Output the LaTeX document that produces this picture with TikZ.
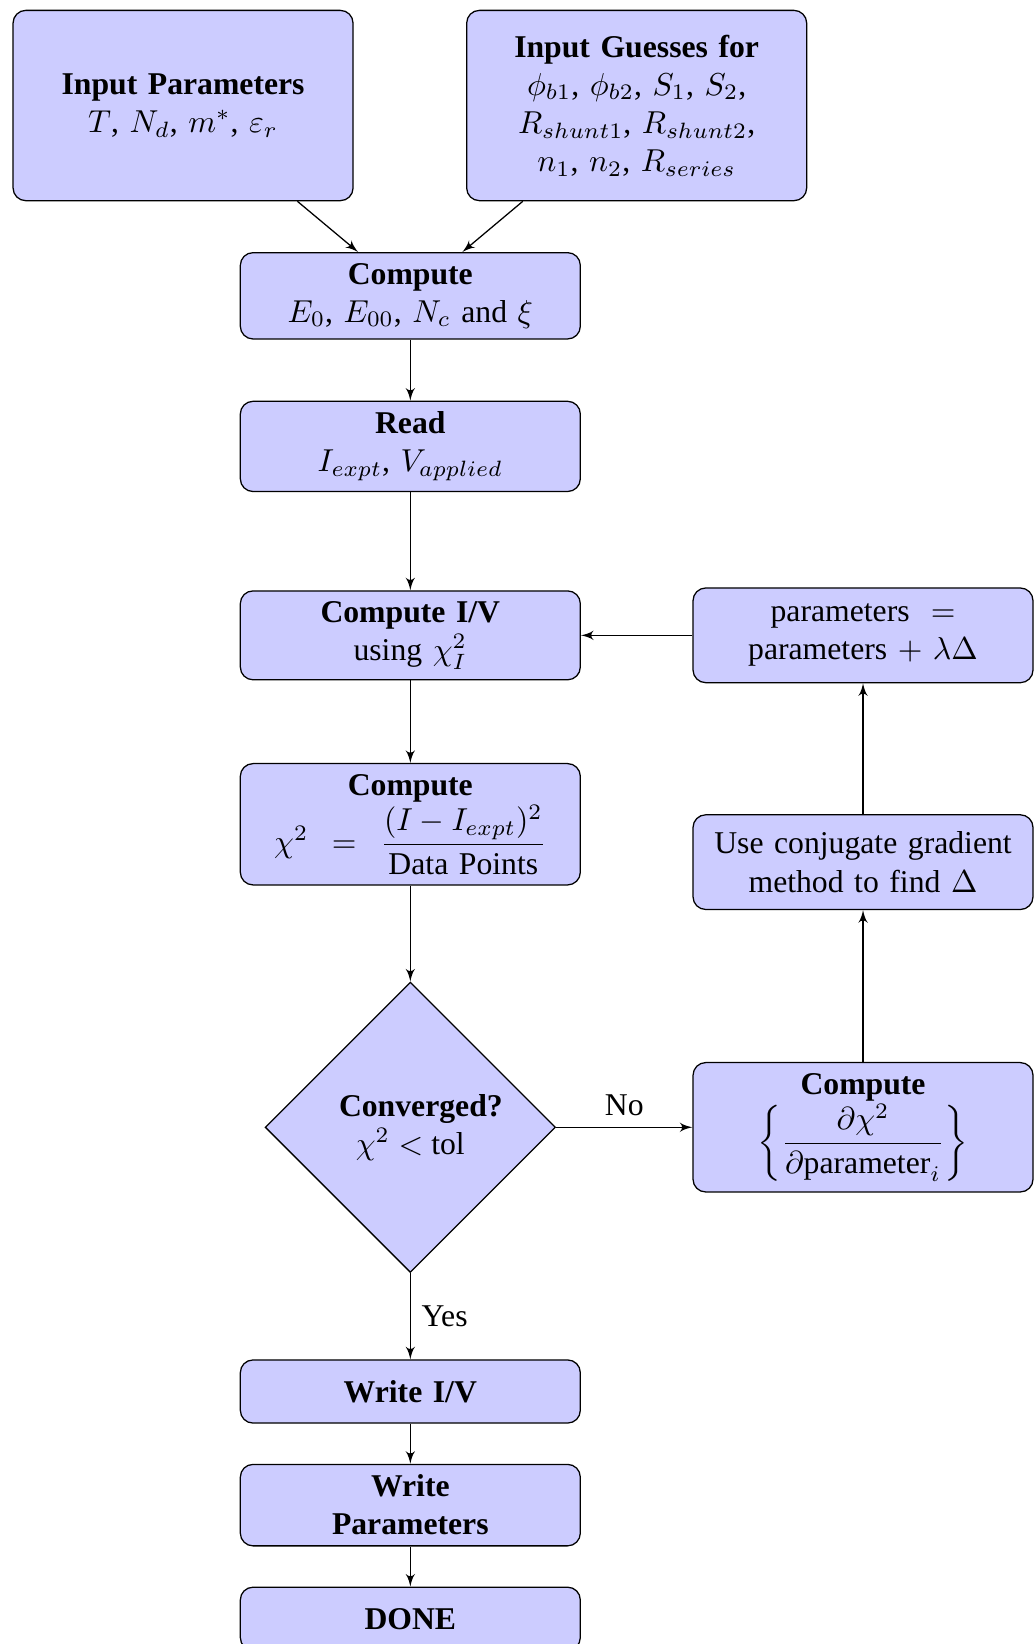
\documentclass[tikz,border=0pt]{standalone}
\usepackage{amsmath}
\usepackage[no-math]{fontspec}
\setmainfont{Liberation Serif}
\usetikzlibrary{shapes,arrows}

\tikzset{
  block/.style={rectangle, draw, fill=blue!20, text width=3.5cm, text centered, rounded corners, minimum width=3.77cm, minimum height=0.7cm},
  decision/.style={diamond, draw, fill=blue!20, text width=4.5em, text badly centered, inner sep=0pt, aspect=1, minimum width=3.22cm, minimum height=3.22cm},
  line/.style={draw, -latex'}
}

\begin{document}
\begin{tikzpicture}
\useasboundingbox (0,0) rectangle (11.47,-18.23);

% inputs
\node[block, minimum height=2.11cm] (inpar) at (2.03,-1.17) {\textbf{Input Parameters}\\ $T$, $N_d$, $m^*$, $\varepsilon_r$};
\node[block, minimum height=2.11cm] (guess) at (7.06,-1.17) {\textbf{Input Guesses for}\\ $\phi_{b1}$, $\phi_{b2}$, $S_1$, $S_2$,\\ $R_{shunt1}$, $R_{shunt2}$,\\ $n_1$, $n_2$, $R_{series}$};

% main column
\node[block] (comp) at (4.55,-3.28) {\textbf{Compute}\\ $E_0$, $E_{00}$, $N_c$ and $\xi$};
\node[block] (read) at (4.55,-4.95) {\textbf{Read}\\ $I_{expt}$, $V_{applied}$};
\node[block] (iv) at (4.55,-7.045) {\textbf{Compute I/V}\\ using $\chi_I^2$};
\node[block] (chi) at (4.55,-9.14) {\textbf{Compute}\\ $\chi^2 \;=\; \dfrac{(I-I_{expt})^2}{\text{Data Points}}$};
\node[decision] (conv) at (4.55,-12.5) {\textbf{Converged?}\\ $\chi^2 <$ tol};
\node[block] (wiv) at (4.55,-15.43) {\textbf{Write I/V}};
\node[block] (wpar) at (4.55,-16.69) {\textbf{Write}\\ \textbf{Parameters}};
\node[block] (done) at (4.55,-17.95) {\textbf{DONE}};

% update loop
\node[block] (grad) at (9.57,-12.5) {\textbf{Compute}\\ $\left\{\dfrac{\partial\chi^2}{\partial\text{parameter}_i}\right\}$};
\node[block, minimum height=1.05cm] (cg) at (9.57,-9.56) {Use conjugate gradient\\ method to find $\Delta$};
\node[block, minimum height=1.05cm] (upd) at (9.57,-7.045) {parameters\ \ $=$\\ parameters $+$ $\lambda\Delta$};

\draw[line] (inpar) -- (comp);
\draw[line] (guess) -- (comp);
\draw[line] (comp) -- (read);
\draw[line] (read) -- (iv);
\draw[line] (iv) -- (chi);
\draw[line] (chi) -- (conv);
\draw[line] (conv) -- node[above]{No} (grad);
\draw[line] (conv) -- node[right]{Yes} (wiv);
\draw[line] (wiv) -- (wpar);
\draw[line] (wpar) -- (done);
\draw[line] (grad) -- (cg);
\draw[line] (cg) -- (upd);
\draw[line] (upd) -- (iv);
\end{tikzpicture}
\end{document}
